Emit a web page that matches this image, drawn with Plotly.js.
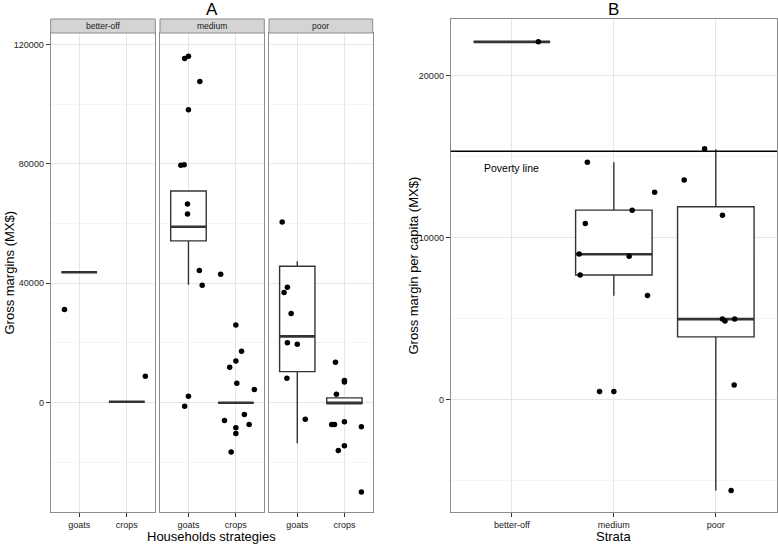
<!DOCTYPE html>
<html>
<head>
<meta charset="utf-8">
<script src="https://cdn.plot.ly/plotly-3.0.1.min.js"></script>
<style>html,body{margin:0;padding:0;background:#fff;}#chart{width:778px;height:544px;}</style>
</head>
<body>
<div id="chart"></div>
<script>
// ---------- Panel A data: gross margins (MX$) by stratum and strategy ----------
const strataA = ['better-off', 'medium', 'poor'];
const strategies = ['goats', 'crops'];
const boxA_q1 = [[43700, 300], [54200, 0], [10400, -200]];
const boxA_median = [[43700, 300], [58900, 0], [22200, -200]];
const boxA_q3 = [[43700, 300], [70900, 0], [45700, 1600]];
const boxA_lower = [[43700, 300], [39500, 0], [-13600, -200]];
const boxA_upper = [[43700, 300], [70900, 0], [47400, 1600]];

const betterOffGoats = [31200];
const betterOffGoatsJitter = [-0.31];
const betterOffCrops = [8840];
const betterOffCropsJitter = [0.39];
const mediumGoats = [115250, 116050, 107600, 98100, 79500, 79700, 66550, 63150, 44300, 39300, 2150, -1150];
const mediumGoatsJitter = [-0.08, 0, 0.24, 0, -0.16, -0.09, -0.02, -0.02, 0.23, 0.29, 0, -0.08];
const mediumCrops = [43000, 26000, 17250, 14000, 11870, 6500, 4400, -3950, -6000, -7260, -8400, -10300, -16500];
const mediumCropsJitter = [-0.32, 0, 0.12, 0, -0.13, 0.02, 0.39, 0.18, -0.24, 0.28, 0, 0, -0.1];
const poorGoats = [60500, 38650, 36900, 29900, 20100, 19600, 8200, -5500];
const poorGoatsJitter = [-0.32, -0.21, -0.28, -0.13, -0.21, 0, -0.22, 0.17];
const poorCrops = [13550, 7400, 6950, 2800, -7300, -7300, -6400, -8050, -14450, -16000, -29900];
const poorCropsJitter = [-0.19, 0, 0, -0.17, -0.27, -0.21, 0, 0.36, 0, -0.13, 0.36];

const yTicksA = [0, 40000, 80000, 120000];
const yMinorA = [-20000, 20000, 60000, 100000];

// ---------- Panel B data: gross margin per capita (MX$) by stratum ----------
const strataB = ['better-off', 'medium', 'poor'];
const boxB_q1 = [22070, 7690, 3870];
const boxB_median = [22070, 8970, 4970];
const boxB_q3 = [22070, 11690, 11900];
const boxB_lower = [22070, 6410, -5600];
const boxB_upper = [22070, 14650, 15450];
const perCapitaBetterOff = [22070];
const perCapitaBetterOffJitter = [0.26];
const perCapitaMedium = [14650, 10870, 8990, 7690, 11690, 8850, 12800, 6430, 510, 510];
const perCapitaMediumJitter = [-0.26, -0.28, -0.34, -0.33, 0.18, 0.15, 0.40, 0.33, -0.14, 0];
const perCapitaPoor = [15470, 13550, 11370, 4970, 4850, 4970, 900, -5600];
const perCapitaPoorJitter = [-0.11, -0.31, 0.065, 0.065, 0.09, 0.185, 0.18, 0.15];
const povertyLine = 15320;
const povertyLabel = 'Poverty line';
const yTicksB = [0, 10000, 20000];
const yMinorB = [-5000, 5000, 15000];

// ---------- build ----------
const FONT = 'Liberation Sans, Arial, Helvetica, sans-serif';
const W = 778, H = 544;
const BOXW = 0.75;
const dark = '#333333';
const gridMajor = '#e6e6e6';
const gridMinor = '#f5f5f5';
const border = '#8c8c8c';

const pointsA = [
  [[betterOffGoats, betterOffGoatsJitter], [betterOffCrops, betterOffCropsJitter]],
  [[mediumGoats, mediumGoatsJitter], [mediumCrops, mediumCropsJitter]],
  [[poorGoats, poorGoatsJitter], [poorCrops, poorCropsJitter]]
];
const pointsB = [
  [perCapitaBetterOff, perCapitaBetterOffJitter],
  [perCapitaMedium, perCapitaMediumJitter],
  [perCapitaPoor, perCapitaPoorJitter]
];

const traces = [];
const axSuffix = ['', '2', '3', '4'];

function addBoxes(xa, ya, positions, q1, med, q3, lo, up) {
  traces.push({
    type: 'box', xaxis: xa, yaxis: ya,
    x: positions, q1: q1, median: med, q3: q3, lowerfence: lo, upperfence: up,
    width: BOXW, whiskerwidth: 0, fillcolor: '#ffffff', line: {color: dark, width: 1.4},
    boxpoints: false, hoverinfo: 'skip', showlegend: false
  });
  // thicker median segments (ggplot style)
  const mx = [], my = [];
  positions.forEach((p, i) => { mx.push(p - BOXW / 2, p + BOXW / 2, null); my.push(med[i], med[i], null); });
  traces.push({type: 'scatter', mode: 'lines', xaxis: xa, yaxis: ya, x: mx, y: my,
    line: {color: dark, width: 2.6}, hoverinfo: 'skip', showlegend: false});
}
function addPoints(xa, ya, pos, vals, jit) {
  traces.push({type: 'scatter', mode: 'markers', xaxis: xa, yaxis: ya,
    x: vals.map((v, i) => pos + jit[i]), y: vals,
    marker: {color: '#000000', size: 5.5}, hoverinfo: 'skip', showlegend: false});
}

strataA.forEach((s, f) => {
  const xa = 'x' + axSuffix[f], ya = 'y' + axSuffix[f];
  const pos = strategies.map((_, j) => j + 1);
  addBoxes(xa, ya, pos, boxA_q1[f], boxA_median[f], boxA_q3[f], boxA_lower[f], boxA_upper[f]);
  strategies.forEach((_, j) => addPoints(xa, ya, j + 1, pointsA[f][j][0], pointsA[f][j][1]));
});
const posB = strataB.map((_, i) => i + 1);
addBoxes('x4', 'y4', posB, boxB_q1, boxB_median, boxB_q3, boxB_lower, boxB_upper);
strataB.forEach((_, i) => addPoints('x4', 'y4', i + 1, pointsB[i][0], pointsB[i][1]));

// geometry (pixels)
const facetX = [[50.7, 155.3], [160, 264.3], [269, 372.7]];
const panelBX = [450.7, 777];
const plotBottom = 512, plotTopA = 33, stripTop = 19, plotTopB = 19;
const px = v => v / W, py = v => 1 - v / H;

const tickFont = {family: FONT, size: 9, color: '#222'};
function xAxis(dom, anchor, tv, tt, rng) {
  return {domain: dom, anchor: anchor, range: rng, tickmode: 'array', tickvals: tv, ticktext: tt,
    showgrid: true, gridcolor: gridMajor, gridwidth: 1, zeroline: false,
    showline: true, mirror: true, linecolor: border, linewidth: 1,
    ticks: 'outside', ticklen: 4, tickcolor: dark, tickwidth: 1, tickfont: tickFont, fixedrange: true};
}
function yAxis(dom, anchor, rng, tv, minor, labels) {
  return {domain: dom, anchor: anchor, range: rng, tickmode: 'array', tickvals: tv,
    ticktext: tv.map(v => String(v)), showticklabels: labels,
    showgrid: true, gridcolor: gridMajor, gridwidth: 1, zeroline: false,
    minor: {tickmode: 'array', tickvals: minor, showgrid: true, gridcolor: gridMinor, ticks: ''},
    showline: true, mirror: true, linecolor: border, linewidth: 1,
    ticks: labels ? 'outside' : '', ticklen: 4, tickcolor: dark, tickwidth: 1, tickfont: tickFont, fixedrange: true};
}
const rangeA = [-36600, 123800];
const rangeB = [-6930, 23480];
const yDomA = [py(plotBottom), py(plotTopA)];
const yDomB = [py(plotBottom), py(plotTopB)];

const layout = {
  width: W, height: H, margin: {l: 0, r: 0, t: 0, b: 0},
  paper_bgcolor: '#ffffff', plot_bgcolor: '#ffffff', showlegend: false,
  font: {family: FONT, color: '#000'},
  xaxis: xAxis([px(facetX[0][0]), px(facetX[0][1])], 'y', [1, 2], strategies, [0.4, 2.6]),
  xaxis2: xAxis([px(facetX[1][0]), px(facetX[1][1])], 'y2', [1, 2], strategies, [0.4, 2.6]),
  xaxis3: xAxis([px(facetX[2][0]), px(facetX[2][1])], 'y3', [1, 2], strategies, [0.4, 2.6]),
  xaxis4: xAxis([px(panelBX[0]), px(panelBX[1])], 'y4', posB, strataB, [0.4, 3.6]),
  yaxis: yAxis(yDomA, 'x', rangeA, yTicksA, yMinorA, true),
  yaxis2: yAxis(yDomA, 'x2', rangeA, yTicksA, yMinorA, false),
  yaxis3: yAxis(yDomA, 'x3', rangeA, yTicksA, yMinorA, false),
  yaxis4: yAxis(yDomB, 'x4', rangeB, yTicksB, yMinorB, true),
  shapes: [],
  annotations: []
};

// facet strips
strataA.forEach((s, f) => {
  layout.shapes.push({type: 'rect', xref: 'paper', yref: 'paper',
    x0: px(facetX[f][0]), x1: px(facetX[f][1]), y0: py(plotTopA), y1: py(stripTop),
    fillcolor: '#d4d4d4', line: {color: border, width: 1}, layer: 'above'});
  layout.annotations.push({xref: 'paper', yref: 'paper', x: px((facetX[f][0] + facetX[f][1]) / 2),
    y: py((plotTopA + stripTop) / 2), text: s, showarrow: false, xanchor: 'center', yanchor: 'middle',
    font: {family: FONT, size: 8.5, color: '#1a1a1a'}});
});
// poverty line
layout.shapes.push({type: 'line', xref: 'x4 domain', yref: 'y4', x0: 0, x1: 1, y0: povertyLine, y1: povertyLine,
  line: {color: '#000', width: 1.5}, layer: 'above'});
layout.annotations.push({xref: 'x4', yref: 'y4', x: 1, y: 14300, text: povertyLabel, showarrow: false,
  xanchor: 'center', yanchor: 'middle', font: {family: FONT, size: 10.5, color: '#000'}});

// titles
const centerA = (facetX[0][0] + facetX[2][1]) / 2;
const centerB = (panelBX[0] + panelBX[1]) / 2;
layout.annotations.push(
  {xref: 'paper', yref: 'paper', x: px(centerA), y: py(9), text: 'A', showarrow: false, xanchor: 'center', yanchor: 'middle', font: {family: FONT, size: 17, color: '#000'}},
  {xref: 'paper', yref: 'paper', x: px(centerB), y: py(9), text: 'B', showarrow: false, xanchor: 'center', yanchor: 'middle', font: {family: FONT, size: 17, color: '#000'}},
  {xref: 'paper', yref: 'paper', x: px(centerA), y: py(536), text: 'Households strategies', showarrow: false, xanchor: 'center', yanchor: 'middle', font: {family: FONT, size: 13, color: '#000'}},
  {xref: 'paper', yref: 'paper', x: px(centerB), y: py(536), text: 'Strata', showarrow: false, xanchor: 'center', yanchor: 'middle', font: {family: FONT, size: 13, color: '#000'}},
  {xref: 'paper', yref: 'paper', x: px(9), y: py((plotTopA + plotBottom) / 2), text: 'Gross margins (MX$)', textangle: -90, showarrow: false, xanchor: 'center', yanchor: 'middle', font: {family: FONT, size: 13, color: '#000'}},
  {xref: 'paper', yref: 'paper', x: px(413), y: py((plotTopB + plotBottom) / 2), text: 'Gross margin per capita (MX$)', textangle: -90, showarrow: false, xanchor: 'center', yanchor: 'middle', font: {family: FONT, size: 13, color: '#000'}}
);

Plotly.newPlot('chart', traces, layout, {displayModeBar: false, staticPlot: true});
</script>
</body>
</html>
